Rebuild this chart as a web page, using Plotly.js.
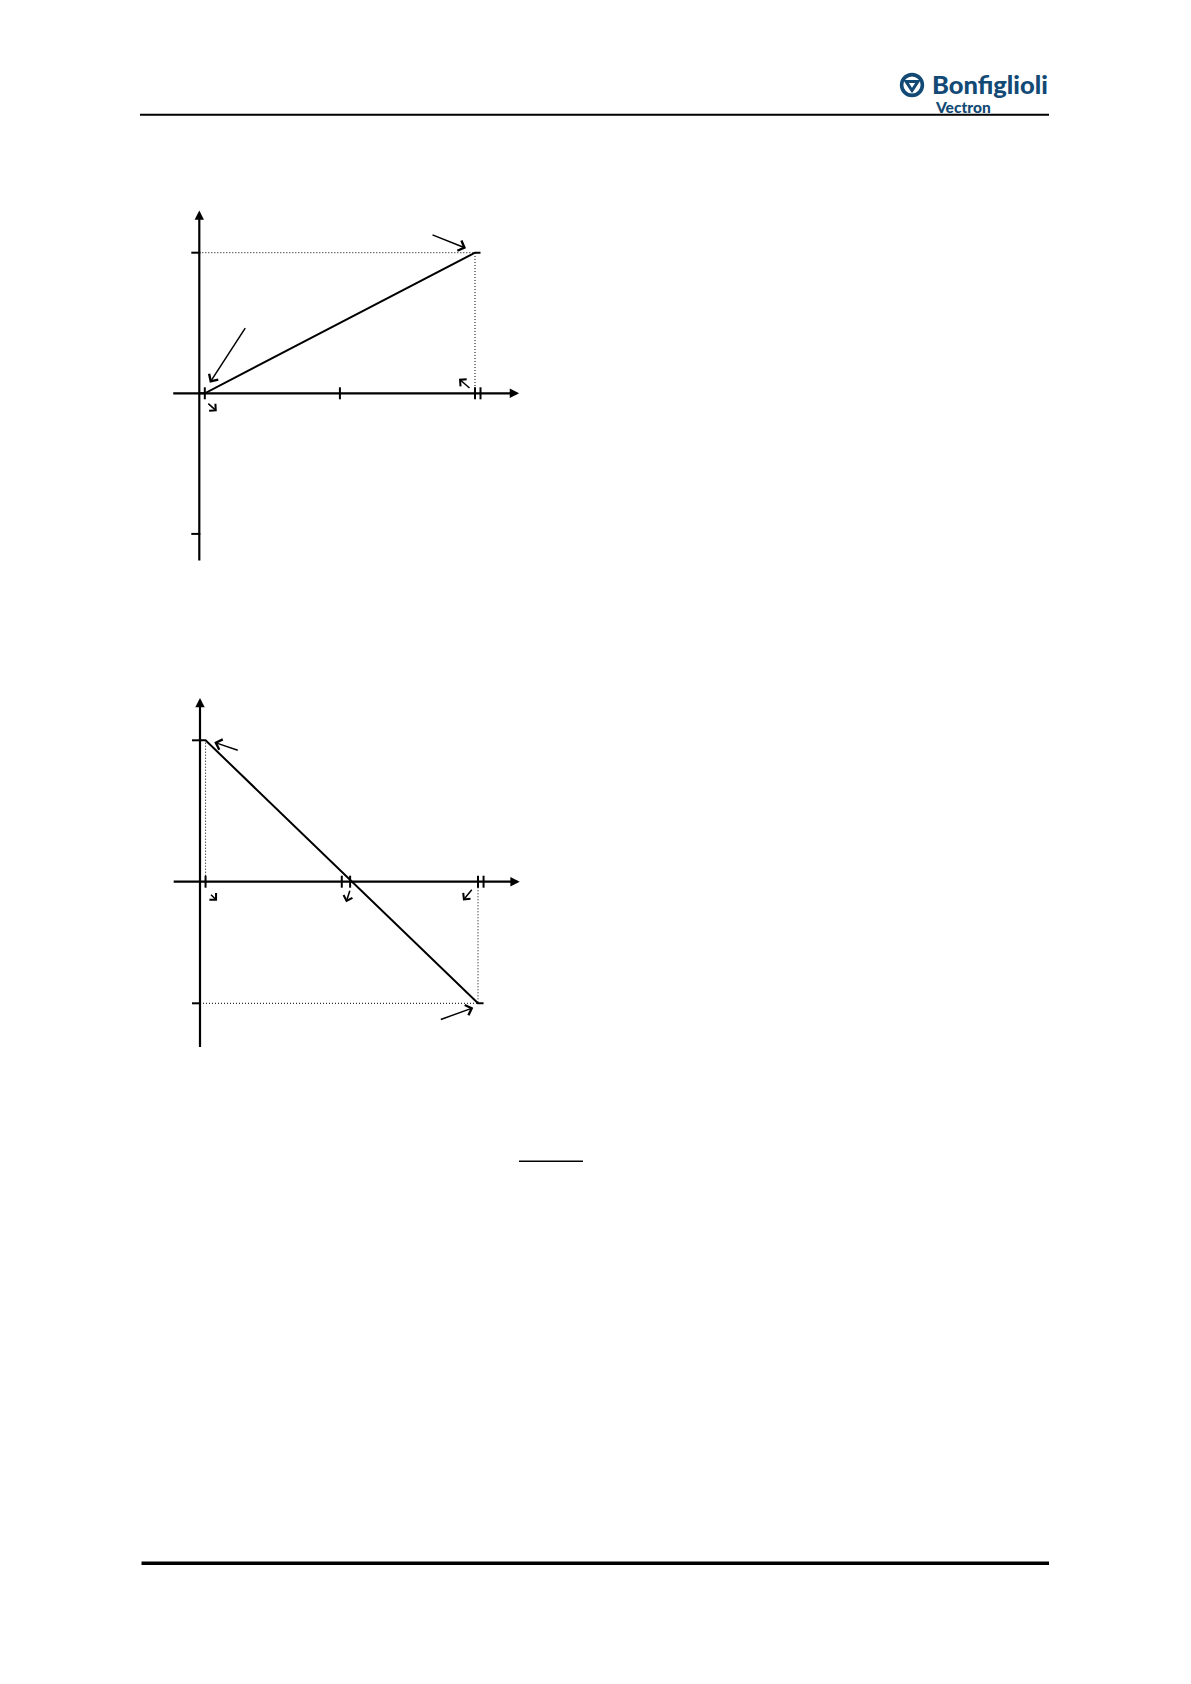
<!DOCTYPE html>
<html><head><meta charset="utf-8">
<script src="https://cdn.plot.ly/plotly-3.0.1.min.js"></script>
<style>html,body{margin:0;padding:0;background:#fff;} #chart{width:1191px;height:1684px;}</style>
</head><body><div id="chart"></div>
<script>
// ---------------- data ----------------
// Diagram 1 (rising characteristic)
const line1X = [0, 2, 100, 102];
const line1Y = [0, 0, 100, 100];
const xTicks1 = [2, 51, 100, 102];
const yTicks1 = [100, -100];
const xAxis1 = [-10, 116];
const yAxis1 = [-120, 130];

// Diagram 2 (falling characteristic)
const line2X = [0, 2, 100, 102];
const line2Y = [100, 100, -86, -86];
const xTicks2 = [2, 51, 54, 100, 102];
const yTicks2 = [100, -86];
const xAxis2 = [-10, 115];
const yAxis2 = [-118, 130];

const logoName = 'Bonfiglioli';
const logoSub = 'Vectron';

// ---------------- layout geometry ----------------
const W = 1191, H = 1684;
const px = v => v / W;
const py = v => 1 - v / H;
const geo1 = {ox:199.3, oy:393.3, sx:2.757, sy:1.406, left:150, right:530, top:190, bottom:580};
const geo2 = {ox:200, oy:881.7, sx:2.78, sy:1.414, left:150, right:530, top:670, bottom:1070};
function axPair(g, xa, ya){
  return {
    x:{domain:[px(g.left), px(g.right)], range:[(g.left-g.ox)/g.sx, (g.right-g.ox)/g.sx],
       visible:false, fixedrange:true, anchor:ya},
    y:{domain:[py(g.bottom), py(g.top)], range:[(g.oy-g.bottom)/g.sy, (g.oy-g.top)/g.sy],
       visible:false, fixedrange:true, anchor:xa}
  };
}
const a1 = axPair(geo1, 'x', 'y');
const a2 = axPair(geo2, 'x2', 'y2');

const BLACK = '#000';
const traces = [];
function lineTrace(x, y, xa, ya, w, dash){
  return {x:x, y:y, xaxis:xa, yaxis:ya, type:'scatter', mode:'lines', hoverinfo:'skip',
          showlegend:false, line:{color:BLACK, width:w, dash:dash||'solid'}, connectgaps:false};
}
// characteristic lines
traces.push(lineTrace(line1X, line1Y, 'x', 'y', 2));
traces.push(lineTrace(line2X, line2Y, 'x2', 'y2', 2));
// dotted guide lines
traces.push(lineTrace([0, line1X[2], line1X[2]], [line1Y[2], line1Y[2], 0], 'x', 'y', 1, '1px,2px'));
traces.push(lineTrace([line2X[1], line2X[1]], [0, line2Y[1]], 'x2', 'y2', 1, '1px,2px'));
traces.push(lineTrace([0, line2X[2], line2X[2]], [line2Y[2], line2Y[2], 0], 'x2', 'y2', 1, '1px,2px'));

// ---------------- shapes (ticks + page rules + logo) ----------------
const shapes = [];
function ticks(xt, yt, xr, yr){
  xt.forEach(t => shapes.push({type:'line', xref:xr, yref:yr, ysizemode:'pixel', yanchor:0,
     x0:t, x1:t, y0:-6, y1:6, line:{color:BLACK, width:2}}));
  yt.forEach(t => shapes.push({type:'line', xref:xr, yref:yr, xsizemode:'pixel', xanchor:0,
     x0:-8, x1:1, y0:t, y1:t, line:{color:BLACK, width:2}}));
}
ticks(xTicks1, yTicks1, 'x', 'y');
ticks(xTicks2, yTicks2, 'x2', 'y2');

// page rules
shapes.push({type:'line', xref:'paper', yref:'paper', x0:px(140), x1:px(1049), y0:py(114.7), y1:py(114.7), line:{color:BLACK, width:2}});
shapes.push({type:'line', xref:'paper', yref:'paper', x0:px(141.5), x1:px(1049), y0:py(1563.3), y1:py(1563.3), line:{color:BLACK, width:3.5}});
shapes.push({type:'line', xref:'paper', yref:'paper', x0:px(519), x1:px(583), y0:py(1161.3), y1:py(1161.3), line:{color:BLACK, width:1.5}});

// logo symbol
const LOGO = '#124a75';
const lc = {x:912, y:85, r:10.4};
shapes.push({type:'circle', xref:'paper', yref:'paper', x0:px(lc.x-lc.r), x1:px(lc.x+lc.r),
  y0:py(lc.y+lc.r), y1:py(lc.y-lc.r), line:{color:LOGO, width:3.6}, fillcolor:'rgba(0,0,0,0)'});
shapes.push({type:'path', xref:'paper', yref:'paper',
  path:'M'+px(lc.x-6)+','+py(lc.y-3.6)+' L'+px(lc.x+6)+','+py(lc.y-3.6)+' L'+px(lc.x)+','+py(lc.y+5.6)+' Z',
  line:{color:LOGO, width:3}, fillcolor:'rgba(0,0,0,0)'});

// ---------------- annotations ----------------
const annotations = [];
function axisArrow(xr, yr, x0, y0, x1, y1){
  annotations.push({xref:xr, yref:yr, axref:xr, ayref:yr, x:x1, y:y1, ax:x0, ay:y0, text:'',
    showarrow:true, arrowhead:2, arrowsize:0.85, arrowwidth:2.2, arrowcolor:BLACK});
}
axisArrow('x', 'y', xAxis1[0], 0, xAxis1[1], 0);
axisArrow('x', 'y', 0, yAxis1[0], 0, yAxis1[1]);
axisArrow('x2', 'y2', xAxis2[0], 0, xAxis2[1], 0);
axisArrow('x2', 'y2', 0, yAxis2[0], 0, yAxis2[1]);

// pointer arrows: anchored at characteristic points; head offset (px) and tail vector (px)
function pointer(xr, yr, x, y, hx, hy, tx, ty, sz){
  annotations.push({xref:xr, yref:yr, x:x, y:y, xshift:hx, yshift:-hy, ax:tx, ay:ty, text:'',
    showarrow:true, arrowhead:4, arrowsize:sz||1.4, arrowwidth:1.5, arrowcolor:BLACK});
}
pointer('x', 'y', line1X[2], line1Y[2], -9, -4.4, -35, -14);
pointer('x', 'y', line1X[1], line1Y[1], 5, -10.6, 36.4, -56);
pointer('x', 'y', xTicks1[0], 0, 12, 18, -10, -9, 1.2);
pointer('x', 'y', xTicks1[2], 0, -16, -14.5, 12, 10.5, 1.2);

pointer('x2', 'y2', line2X[1], line2Y[1], 8.7, 2, 25, 8.4);
pointer('x2', 'y2', xTicks2[0], 0, 11.5, 19, -7.5, -7.5, 1.2);
pointer('x2', 'y2', xTicks2[2], 0, -4, 20.5, 4.2, -13, 1.2);
pointer('x2', 'y2', xTicks2[3], 0, -15, 18.8, 10, -12.3, 1.2);
pointer('x2', 'y2', line2X[2], line2Y[2], -4.7, 4.4, -34, 12.3);

// logo text
annotations.push({xref:'paper', yref:'paper', x:px(1050), y:py(84), xanchor:'right', yanchor:'middle',
  text:logoName, showarrow:false, font:{family:'Lato, sans-serif', size:25.5, color:LOGO, weight:900}});
annotations.push({xref:'paper', yref:'paper', x:px(933), y:py(106.5), xanchor:'left', yanchor:'middle',
  text:logoSub, showarrow:false, font:{family:'Lato, sans-serif', size:15.5, color:LOGO, weight:900}});

const layout = {
  width:W, height:H, autosize:false, margin:{l:0, r:0, t:0, b:0, pad:0},
  paper_bgcolor:'#fff', plot_bgcolor:'rgba(0,0,0,0)', showlegend:false,
  xaxis:a1.x, yaxis:a1.y, xaxis2:a2.x, yaxis2:a2.y,
  shapes:shapes, annotations:annotations
};
Plotly.newPlot('chart', traces, layout, {staticPlot:true, displayModeBar:false});
</script></body></html>
